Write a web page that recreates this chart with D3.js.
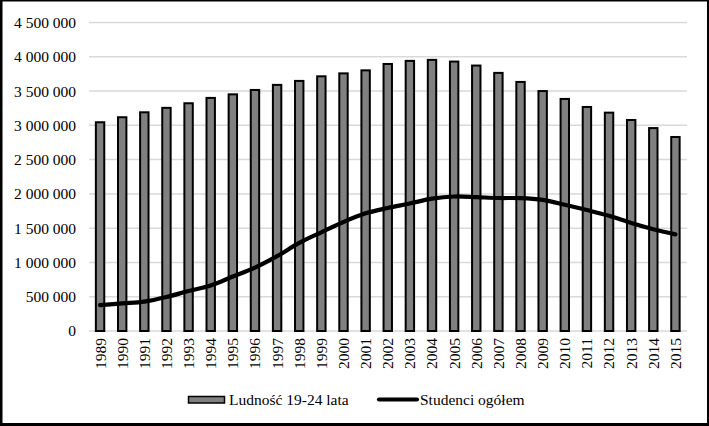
<!DOCTYPE html>
<html><head><meta charset="utf-8">
<script src="https://cdn.jsdelivr.net/npm/d3@7"></script>
<style>
html,body{margin:0;padding:0;background:#fff;}
svg{display:block;}
</style></head>
<body>
<script>
const years = ["1989","1990","1991","1992","1993","1994","1995","1996","1997","1998","1999","2000","2001","2002","2003","2004","2005","2006","2007","2008","2009","2010","2011","2012","2013","2014","2015"];
const ludnosc = [3045000,3118000,3190000,3255000,3322000,3400000,3452000,3516000,3590000,3648000,3715000,3758000,3802000,3895000,3940000,3955000,3930000,3872000,3765000,3633000,3500000,3385000,3268000,3185000,3078000,2960000,2830000];
const studenci = [378000,403000,428000,495000,584000,664000,795000,924000,1091000,1285000,1440000,1590000,1716000,1795000,1860000,1930000,1962000,1952000,1940000,1938000,1912000,1841000,1764000,1680000,1575000,1485000,1410000];
const yTicks = [0,500000,1000000,1500000,2000000,2500000,3000000,3500000,4000000,4500000];
const seriesNames = ["Ludność 19-24 lata","Studenci ogółem"];

const FONT = "'Liberation Serif'";
const FS = "15.5px";
const W = 709, H = 426;
const svg = d3.select("body").append("svg").attr("width", W).attr("height", H);
svg.append("rect").attr("width", W).attr("height", H).attr("fill", "#fff");

const x = d3.scaleBand().domain(years).range([89, 686.5]).paddingInner(0.62).paddingOuter(0.31);
const y = d3.scaleLinear().domain([0, 4500000]).range([331, 22.5]);
const fmt = v => d3.format(",")(v).replace(/,/g, " ");

// gridlines
svg.append("g").selectAll("line").data(yTicks).join("line")
  .attr("x1", 89).attr("x2", 687)
  .attr("y1", d => y(d)).attr("y2", d => y(d))
  .attr("stroke", "#d9d9d9").attr("stroke-width", 1.5);

// y labels
const yAxis = d3.axisLeft(y).tickValues(yTicks).tickFormat(fmt).tickSize(0).tickPadding(0);
const ya = svg.append("g").attr("transform", "translate(76,0)").call(yAxis)
  .attr("font-family", null).attr("font-size", null);
ya.select(".domain").remove();
ya.selectAll("text").style("font-size", FS).style("font-family", FONT).attr("fill", "#000");

// bars
svg.append("g").selectAll("rect").data(years).join("rect")
  .attr("x", d => x(d))
  .attr("width", x.bandwidth())
  .attr("y", (d, i) => y(ludnosc[i]))
  .attr("height", (d, i) => y(0) - y(ludnosc[i]))
  .attr("fill", "#808080").attr("stroke", "#000").attr("stroke-width", 2);

// x labels
const xAxis = d3.axisBottom(x).tickSize(0).tickPadding(0);
const xa = svg.append("g").attr("transform", "translate(0,338)").call(xAxis)
  .attr("font-family", null).attr("font-size", null);
xa.select(".domain").remove();
xa.selectAll("text")
  .style("font-size", FS).style("font-family", FONT).attr("fill", "#000")
  .attr("transform", "rotate(-90)")
  .attr("text-anchor", "end").attr("x", 0).attr("y", 0).attr("dy", "0.35em");

// line
const line = d3.line()
  .x((d, i) => x(years[i]) + x.bandwidth() / 2)
  .y(d => y(d))
  .curve(d3.curveCatmullRom.alpha(0.5));
svg.append("path").datum(studenci).attr("d", line)
  .attr("fill", "none").attr("stroke", "#000").attr("stroke-width", 4.2)
  .attr("stroke-linecap", "round").attr("stroke-linejoin", "round");

// legend
const lg = svg.append("g");
lg.append("rect").attr("x", 188.5).attr("y", 396.5).attr("width", 36).attr("height", 6.5)
  .attr("fill", "#808080").attr("stroke", "#000").attr("stroke-width", 1.5);
lg.append("text").attr("x", 229).attr("y", 405).style("font-size", FS).style("font-family", FONT).text(seriesNames[0]);
lg.append("line").attr("x1", 379).attr("x2", 417).attr("y1", 399.5).attr("y2", 399.5)
  .attr("stroke", "#000").attr("stroke-width", 4.2).attr("stroke-linecap", "round");
lg.append("text").attr("x", 420).attr("y", 405).style("font-size", FS).style("font-family", FONT).text(seriesNames[1]);

// outer frame
svg.append("rect").attr("x", 0).attr("y", 0).attr("width", 2.5).attr("height", H).attr("fill", "#000");
svg.append("rect").attr("x", 707).attr("y", 0).attr("width", 2).attr("height", H).attr("fill", "#000");
svg.append("rect").attr("x", 0).attr("y", 0).attr("width", W).attr("height", 1.5).attr("fill", "#000");
svg.append("rect").attr("x", 0).attr("y", 423).attr("width", W).attr("height", 3).attr("fill", "#000");
</script>
</body></html>
